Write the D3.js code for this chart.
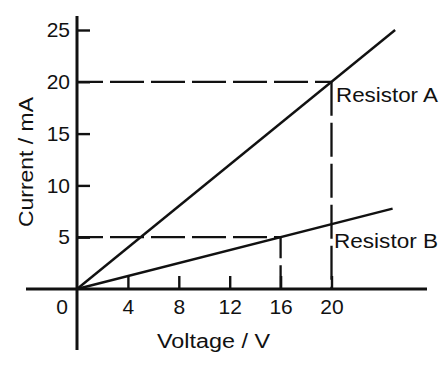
<!DOCTYPE html>
<html>
<head>
<meta charset="utf-8">
<script src="https://cdn.jsdelivr.net/npm/d3@7"></script>
<style>
  body { margin: 0; background: #fff; }
  text { font-family: "Liberation Sans", Arial, Helvetica, sans-serif; fill: #111; }
</style>
</head>
<body>
<script>
// I-V graph for two resistors
var xTicks = [4, 8, 12, 16, 20];
var yTicks = [5, 10, 15, 20, 25];
var voltageA = [0, 25];
var currentA = [0, 25];
var voltageB = [0, 24.8];
var currentB = [0, 7.75];
var readA = { v: 20, i: 20 };
var readB = { v: 16, i: 5 };

var width = 448, height = 365;
var svg = d3.select("body").append("svg")
    .attr("width", width)
    .attr("height", height);

var x = d3.scaleLinear().domain([0, 20]).range([77, 331.5]);
var y = d3.scaleLinear().domain([0, 25]).range([289, 30]);

var ink = "#111";

// axes lines, running past the origin
svg.append("line")
    .attr("x1", x(0)).attr("x2", x(0))
    .attr("y1", 16).attr("y2", 350)
    .attr("stroke", ink).attr("stroke-width", 3);
svg.append("line")
    .attr("x1", 26).attr("x2", 427)
    .attr("y1", y(0)).attr("y2", y(0))
    .attr("stroke", ink).attr("stroke-width", 3);

var yAxis = svg.append("g")
    .attr("transform", "translate(" + x(0) + ",0)")
    .call(d3.axisLeft(y).tickValues(yTicks).tickSize(-13).tickPadding(7));
var xAxis = svg.append("g")
    .attr("transform", "translate(0," + y(0) + ")")
    .call(d3.axisBottom(x).tickValues(xTicks).tickSize(-13).tickPadding(10));

[yAxis, xAxis].forEach(function (g) {
  g.select(".domain").remove();
  g.selectAll(".tick line").attr("stroke", ink).attr("stroke-width", 2.4);
  g.selectAll(".tick text")
      .attr("fill", ink)
      .style("font-size", "21px")
      .style("font-family", "'Liberation Sans', Arial, sans-serif");
});

svg.append("text")
    .attr("x", 62).attr("y", 314)
    .attr("text-anchor", "middle")
    .style("font-size", "21px")
    .text("0");

// dashed read-off lines
function dashed(x1, y1, x2, y2, offset) {
  svg.append("line")
      .attr("x1", x1).attr("y1", y1).attr("x2", x2).attr("y2", y2)
      .attr("stroke", ink).attr("stroke-width", 2.3)
      .attr("stroke-dasharray", "34,7")
      .attr("stroke-dashoffset", offset);
}
dashed(x(0), y(readA.i), x(readA.v), y(readA.i), 8);
dashed(x(readA.v), y(readA.i), x(readA.v), y(0), 0);
dashed(x(0), y(readB.i), x(readB.v), y(readB.i), 8);
dashed(x(readB.v), y(readB.i), x(readB.v), y(0), 13);

// resistor lines
var line = d3.line()
    .x(function (d) { return x(d[0]); })
    .y(function (d) { return y(d[1]); });

svg.append("path")
    .datum(d3.zip(voltageA, currentA))
    .attr("d", line)
    .attr("fill", "none").attr("stroke", ink).attr("stroke-width", 2.4);
svg.append("path")
    .datum(d3.zip(voltageB, currentB))
    .attr("d", line)
    .attr("fill", "none").attr("stroke", ink).attr("stroke-width", 2.4);

// labels
function label(txt, tx, ty, len) {
  return svg.append("text")
      .attr("x", tx).attr("y", ty)
      .attr("textLength", len)
      .attr("lengthAdjust", "spacingAndGlyphs")
      .style("font-size", "20px")
      .text(txt);
}
label("Resistor A", 336, 102, 102);
label("Resistor B", 334, 248, 104);
label("Voltage / V", 157, 348, 113);

svg.append("text")
    .attr("transform", "translate(33,227) rotate(-90)")
    .attr("textLength", 130)
    .attr("lengthAdjust", "spacingAndGlyphs")
    .style("font-size", "20px")
    .text("Current / mA");
</script>
</body>
</html>
